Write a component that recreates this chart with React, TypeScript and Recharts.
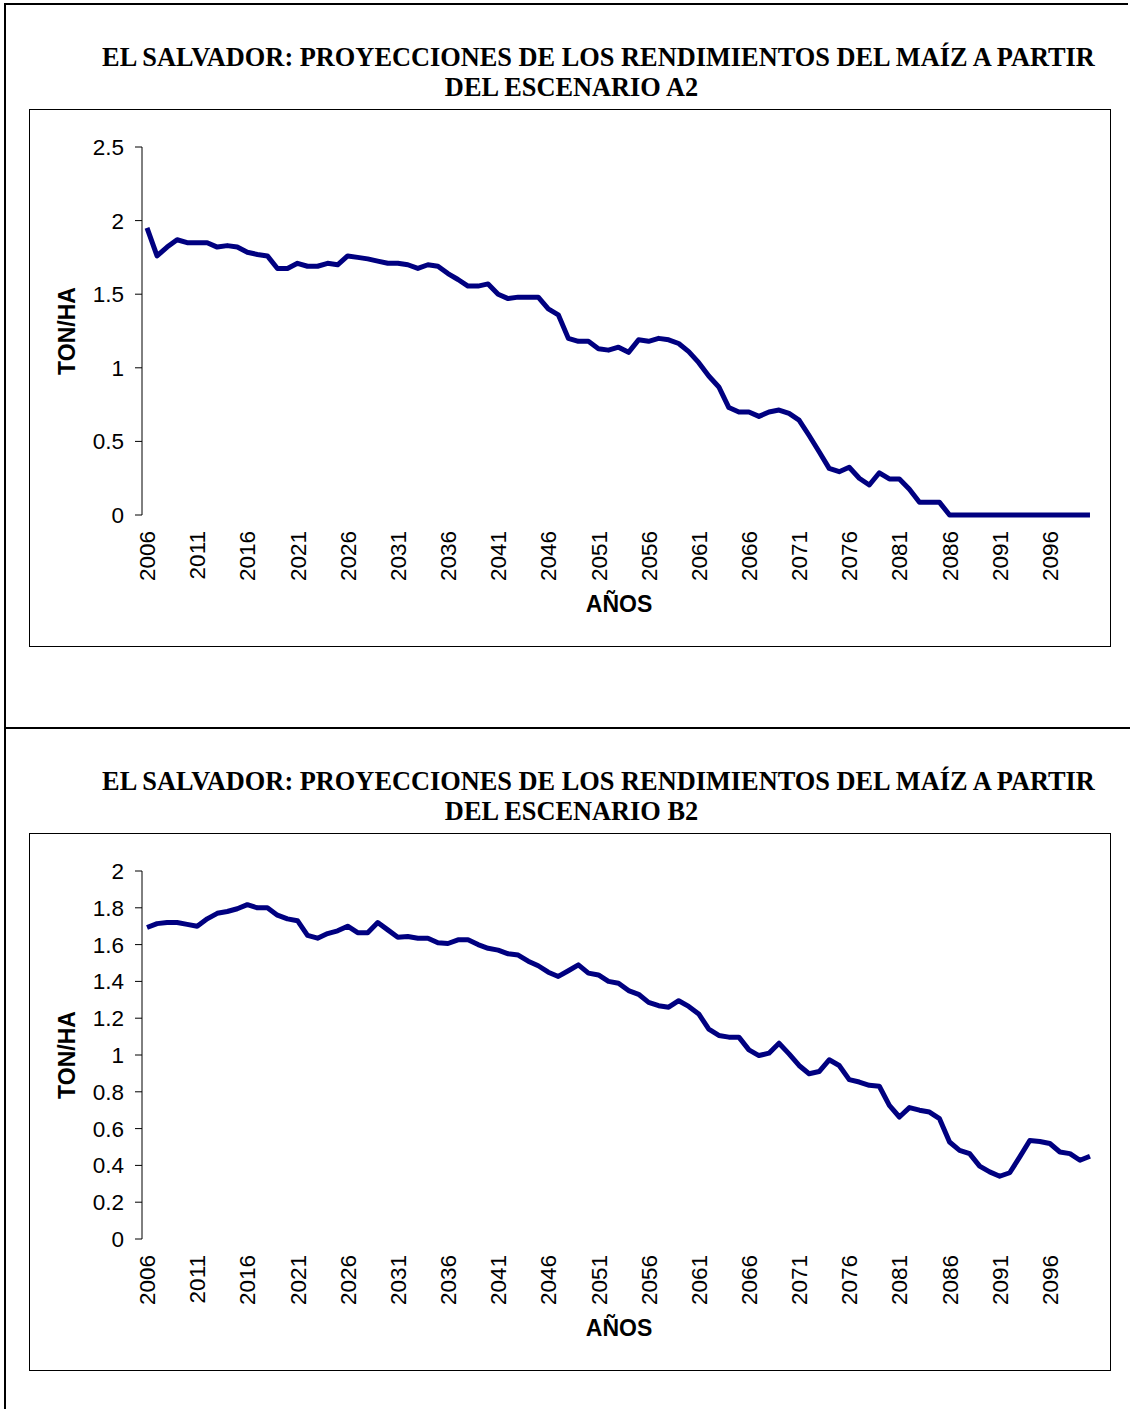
import { LineChart, Line, XAxis, YAxis } from 'recharts'

// Rendimientos del maíz, El Salvador, 2006-2100 (TON/HA)
const START_YEAR = 2006
const years = Array.from({ length: 95 }, (_, i) => START_YEAR + i)
const yearLabels = [2006, 2011, 2016, 2021, 2026, 2031, 2036, 2041, 2046, 2051, 2056, 2061, 2066, 2071, 2076, 2081, 2086, 2091, 2096]
// tick marks sit between the categories, like the Excel original
const boundaryTicks = Array.from({ length: 96 }, (_, i) => START_YEAR - 0.5 + i)

const a2Yield = [
  1.95, 1.76, 1.82, 1.87, 1.85, 1.85, 1.85, 1.82, 1.83, 1.82,
  1.785, 1.77, 1.76, 1.675, 1.675, 1.71, 1.69, 1.69, 1.71, 1.70,
  1.76, 1.75, 1.74, 1.725, 1.71, 1.71, 1.70, 1.675, 1.70, 1.69,
  1.64, 1.60, 1.555, 1.555, 1.57, 1.50, 1.47, 1.48, 1.48, 1.48,
  1.40, 1.36, 1.20, 1.18, 1.18, 1.13, 1.12, 1.14, 1.105, 1.19,
  1.18, 1.20, 1.19, 1.165, 1.11, 1.035, 0.944, 0.87, 0.73, 0.70,
  0.70, 0.67, 0.70, 0.713, 0.69, 0.645, 0.54, 0.43, 0.317, 0.294,
  0.324, 0.25, 0.204, 0.287, 0.245, 0.245, 0.175, 0.086, 0.086, 0.086,
  0, 0, 0, 0, 0, 0, 0, 0, 0, 0,
  0, 0, 0, 0, 0,
]

const b2Yield = [
  1.693, 1.714, 1.72, 1.72, 1.71, 1.70, 1.74, 1.77, 1.78, 1.795,
  1.817, 1.80, 1.80, 1.76, 1.74, 1.73, 1.65, 1.635, 1.66, 1.675,
  1.70, 1.665, 1.665, 1.72, 1.68, 1.64, 1.644, 1.635, 1.635, 1.61,
  1.606, 1.626, 1.626, 1.60, 1.58, 1.57, 1.55, 1.543, 1.51, 1.485,
  1.45, 1.427, 1.458, 1.49, 1.445, 1.435, 1.40, 1.39, 1.35, 1.33,
  1.286, 1.268, 1.26, 1.295, 1.264, 1.223, 1.14, 1.106, 1.097, 1.097,
  1.028, 0.997, 1.01, 1.064, 1.006, 0.943, 0.898, 0.91, 0.974, 0.943,
  0.866, 0.853, 0.835, 0.83, 0.726, 0.663, 0.714, 0.70, 0.69, 0.654,
  0.527, 0.482, 0.464, 0.396, 0.365, 0.341, 0.36, 0.446, 0.535, 0.53,
  0.519, 0.473, 0.464, 0.428, 0.45,
]

const a2Ticks = [0, 0.5, 1, 1.5, 2, 2.5]
const b2Ticks = [0, 0.2, 0.4, 0.6, 0.8, 1, 1.2, 1.4, 1.6, 1.8, 2]

const SANS = '"Liberation Sans", Arial, sans-serif'
const SERIF = '"Liberation Serif", "Times New Roman", serif'
const NAVY = '#000080'

function YearTick({ x, y, payload }: any) {
  return (
    <text
      transform={`translate(${x},${y + 16}) rotate(-90)`}
      textAnchor="end"
      dy="0.36em"
      fontSize={22.5}
      fill="#000"
    >
      {payload.value}
    </text>
  )
}

interface PanelProps {
  top: number
  scenario: string
  values: number[]
  yTicks: number[]
}

function Panel({ top, scenario, values, yTicks }: PanelProps) {
  const data = years.map((year, i) => ({ year, value: values[i] }))
  const yMax = yTicks[yTicks.length - 1]

  return (
    <div style={{ position: 'absolute', left: 0, top, width: 1130, height: 724 }}>
      <div style={{ position: 'absolute', left: 0, width: 1197, top: 43, lineHeight: '30px', textAlign: 'center',
        fontFamily: SERIF, fontWeight: 'bold', fontSize: 26.35, whiteSpace: 'nowrap' }}>
        EL SALVADOR: PROYECCIONES DE LOS RENDIMIENTOS DEL MAÍZ A PARTIR
      </div>
      <div style={{ position: 'absolute', left: 0, width: 1143, top: 73, lineHeight: '30px', textAlign: 'center',
        fontFamily: SERIF, fontWeight: 'bold', fontSize: 26.35, whiteSpace: 'nowrap' }}>
        DEL ESCENARIO {scenario}
      </div>

      <div style={{ position: 'absolute', left: 29, top: 109, width: 1082, height: 538, boxSizing: 'border-box',
        border: '1px solid #000' }} />

      <div style={{ position: 'absolute', left: 29, top: 109, fontFamily: SANS }}>
        <LineChart width={1082} height={538} data={data} margin={{ top: 38, right: 16, bottom: 0, left: 0 }}>
          <XAxis
            xAxisId="marks"
            dataKey="year"
            type="number"
            domain={[START_YEAR - 0.5, START_YEAR + 94.5]}
            allowDataOverflow
            ticks={boundaryTicks}
            interval={0}
            tick={false}
            tickSize={6}
            height={0}
            axisLine={{ stroke: '#000' }}
            tickLine={{ stroke: '#000' }}
          />
          <XAxis
            xAxisId="years"
            dataKey="year"
            type="number"
            domain={[START_YEAR - 0.5, START_YEAR + 94.5]}
            allowDataOverflow
            ticks={yearLabels}
            interval={0}
            tick={<YearTick />}
            tickSize={0}
            tickMargin={0}
            height={132}
            axisLine={false}
            tickLine={false}
          />
          <YAxis
            type="number"
            domain={[0, yMax]}
            ticks={yTicks}
            interval={0}
            width={113}
            tickSize={7}
            tickMargin={11}
            tick={{ fontSize: 22.5, fill: '#000' }}
            axisLine={{ stroke: '#000' }}
            tickLine={{ stroke: '#000' }}
          />
          <Line
            xAxisId="years"
            type="linear"
            dataKey="value"
            stroke={NAVY}
            strokeWidth={5}
            strokeLinejoin="round"
            dot={false}
            isAnimationActive={false}
          />
        </LineChart>
      </div>

      <div style={{ position: 'absolute', left: 67, top: 331, transform: 'translate(-50%, -50%) rotate(-90deg)',
        fontFamily: SANS, fontWeight: 'bold', fontSize: 23, whiteSpace: 'nowrap' }}>
        TON/HA
      </div>
      <div style={{ position: 'absolute', left: 619, top: 604, transform: 'translate(-50%, -50%)',
        fontFamily: SANS, fontWeight: 'bold', fontSize: 23, whiteSpace: 'nowrap' }}>
        AÑOS
      </div>
    </div>
  )
}

export default function App() {
  return (
    <div style={{ position: 'absolute', left: 0, top: 0, width: 1130, height: 1409, overflow: 'hidden', background: '#fff' }}>
      <div style={{ position: 'absolute', left: 4, top: 3, width: 1124, height: 1420, boxSizing: 'border-box',
        borderTop: '2px solid #000', borderLeft: '2px solid #000' }} />
      <div style={{ position: 'absolute', left: 4, top: 727, width: 1126, height: 2, background: '#000' }} />
      <Panel top={0} scenario="A2" values={a2Yield} yTicks={a2Ticks} />
      <Panel top={724} scenario="B2" values={b2Yield} yTicks={b2Ticks} />
    </div>
  )
}
